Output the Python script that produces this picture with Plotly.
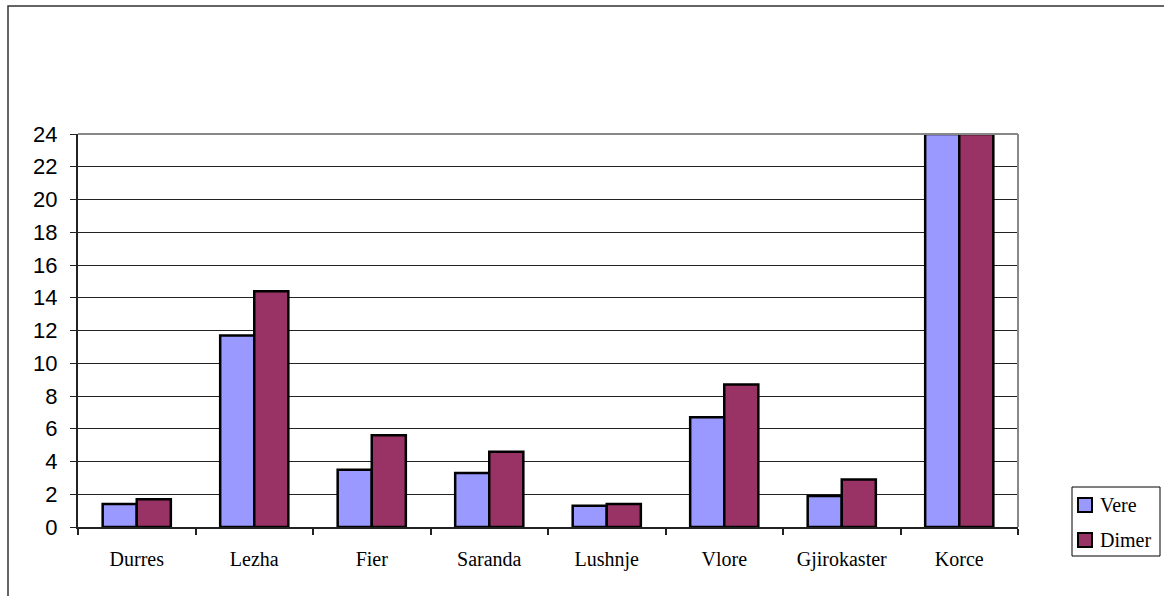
import plotly.graph_objects as go

cities = ["Durres", "Lezha", "Fier", "Saranda", "Lushnje", "Vlore", "Gjirokaster", "Korce"]
vere = [1.4, 11.7, 3.5, 3.3, 1.3, 6.7, 1.9, 24]
dimer = [1.7, 14.4, 5.6, 4.6, 1.4, 8.7, 2.9, 24]
y_ticks = list(range(0, 25, 2))

series = [("Vere", vere, "#9999FF"), ("Dimer", dimer, "#993366")]

W, H = 1164, 596
L, R, T, B = 78, 146, 134, 69
pw, ph = W - L - R, H - T - B

SERIF = "Liberation Serif, Times New Roman, serif"
SANS = "Liberation Sans, Arial, sans-serif"

fig = go.Figure()
for name, vals, color in series:
    fig.add_trace(go.Bar(x=cities, y=vals, name=name, showlegend=False,
                         marker=dict(color=color, line=dict(color="black", width=2.5))))


def px_x(p):
    return (p - L) / pw


def px_y(p):
    return 1 - (p - T) / ph


shapes = [
    # outer chart frame
    dict(type="rect", xref="paper", yref="paper", x0=px_x(8), x1=px_x(1190),
         y0=px_y(620), y1=px_y(6), line=dict(color="#333333", width=1.5), layer="below"),
    # plot area border (top and right)
    dict(type="line", xref="paper", yref="paper", x0=0, x1=1, y0=1, y1=1,
         line=dict(color="#888888", width=2)),
    dict(type="line", xref="paper", yref="paper", x0=1, x1=1, y0=0, y1=1,
         line=dict(color="#888888", width=2)),
    # legend box
    dict(type="rect", xref="paper", yref="paper", x0=px_x(1072), x1=px_x(1160),
         y0=px_y(556), y1=px_y(487), line=dict(color="black", width=1),
         fillcolor="white"),
]
annotations = []
for i, (name, vals, color) in enumerate(series):
    cy = 505 + i * 35
    shapes.append(dict(type="rect", xref="paper", yref="paper",
                       x0=px_x(1078), x1=px_x(1092), y0=px_y(cy + 7), y1=px_y(cy - 7),
                       fillcolor=color, line=dict(color="black", width=2)))
    annotations.append(dict(xref="paper", yref="paper", x=px_x(1098), y=px_y(cy),
                            xanchor="left", yanchor="middle", showarrow=False, text=name,
                            font=dict(family=SERIF, size=20, color="black")))

fig.update_layout(
    width=W, height=H,
    margin=dict(l=L, r=R, t=T, b=B),
    paper_bgcolor="white", plot_bgcolor="white",
    barmode="group", bargap=0.42, bargroupgap=0,
    shapes=shapes, annotations=annotations,
    showlegend=False,
    xaxis=dict(showline=True, linecolor="#222222", linewidth=2,
               ticks="outside", tickson="boundaries", ticklen=6, tickcolor="#222222",
               tickwidth=1.5, ticklabelstandoff=13,
               tickfont=dict(family=SERIF, size=20, color="black"),
               showgrid=False),
    yaxis=dict(range=[0, 24], tickvals=y_ticks, showline=True, linecolor="#222222",
               linewidth=2, ticks="outside", ticklen=6, tickcolor="#222222",
               ticklabelstandoff=8,
               tickfont=dict(family=SANS, size=22, color="black"),
               showgrid=True, gridcolor="#222222", gridwidth=1, zeroline=False),
)

fig.write_html("out.html")
